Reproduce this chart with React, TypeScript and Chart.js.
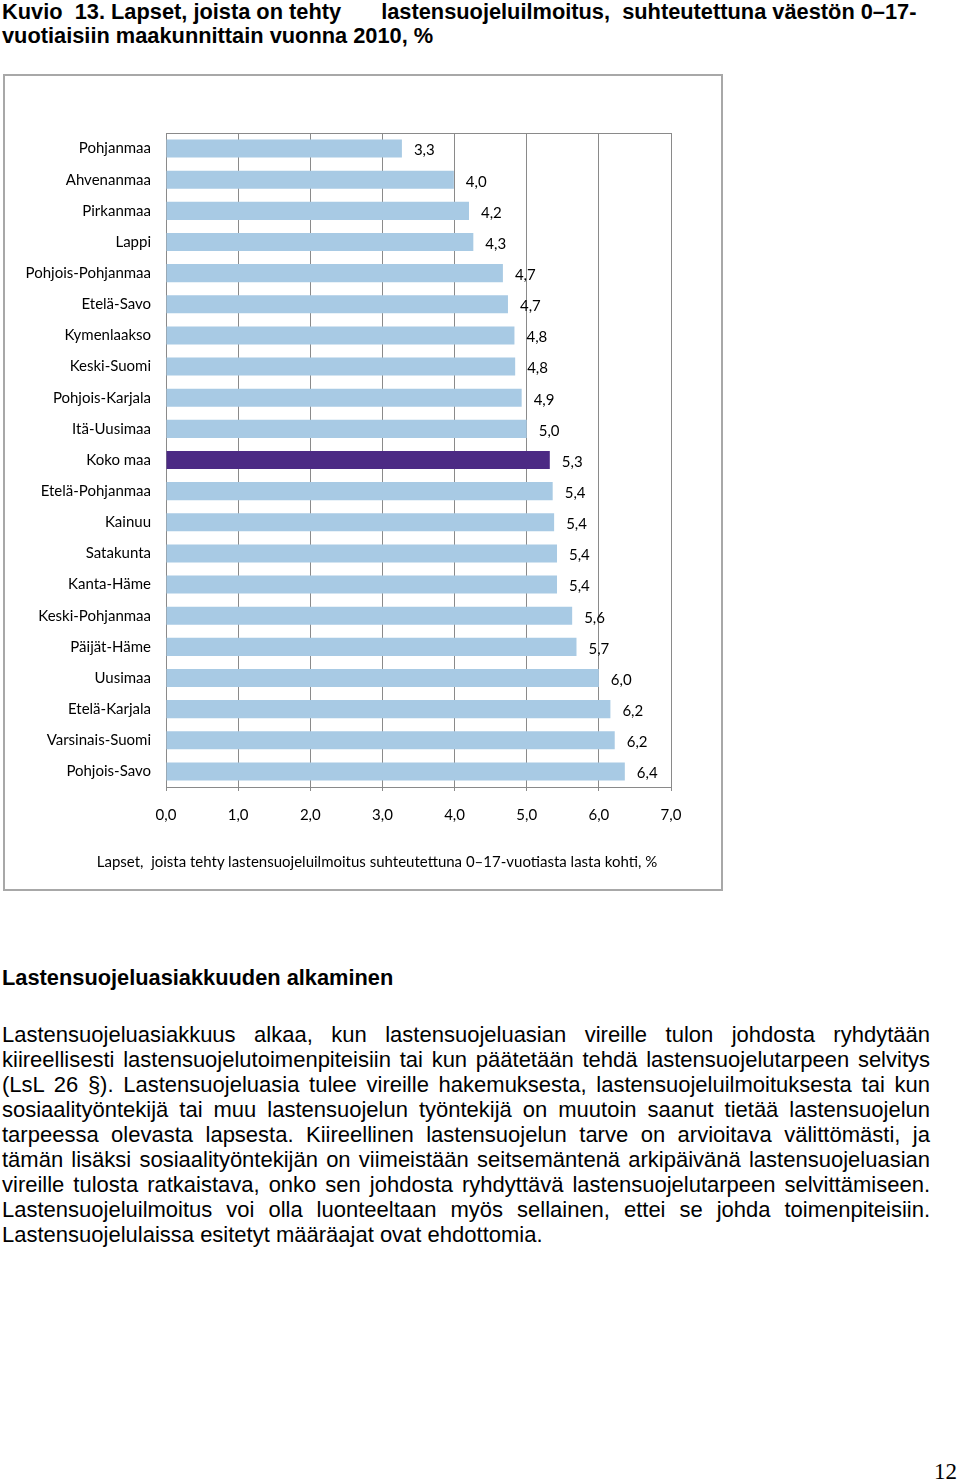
import React, { useEffect, useRef } from 'react';
import { Chart, registerables } from 'chart.js';

Chart.register(...registerables);

const categories = [
  'Pohjanmaa', 'Ahvenanmaa', 'Pirkanmaa', 'Lappi', 'Pohjois-Pohjanmaa', 'Etelä-Savo',
  'Kymenlaakso', 'Keski-Suomi', 'Pohjois-Karjala', 'Itä-Uusimaa', 'Koko maa',
  'Etelä-Pohjanmaa', 'Kainuu', 'Satakunta', 'Kanta-Häme', 'Keski-Pohjanmaa',
  'Päijät-Häme', 'Uusimaa', 'Etelä-Karjala', 'Varsinais-Suomi', 'Pohjois-Savo',
];
const values = [
  3.27, 3.99, 4.2, 4.26, 4.67, 4.74, 4.83, 4.84, 4.93, 5.0, 5.32,
  5.36, 5.38, 5.42, 5.42, 5.63, 5.69, 6.0, 6.16, 6.22, 6.36,
];
const highlighted = ['Koko maa'];
const xMin = 0;
const xMax = 7;
const xStep = 1;

const titleLine1a = 'Kuvio  13. Lapset, joista on tehty';
const titleLine1b = 'lastensuojeluilmoitus,  suhteutettuna väestön 0–17-';
const titleLine2 = 'vuotiaisiin maakunnittain vuonna 2010, %';
const axisTitle = 'Lapset,  joista tehty lastensuojeluilmoitus suhteutettuna 0–17-vuotiasta lasta kohti, %';
const heading = 'Lastensuojeluasiakkuuden alkaminen';
const bodyLines = [
  'Lastensuojeluasiakkuus alkaa, kun lastensuojeluasian vireille tulon johdosta ryhdytään',
  'kiireellisesti lastensuojelutoimenpiteisiin tai kun päätetään tehdä lastensuojelutarpeen selvitys',
  '(LsL 26 §). Lastensuojeluasia tulee vireille hakemuksesta, lastensuojeluilmoituksesta tai kun',
  'sosiaalityöntekijä tai muu lastensuojelun työntekijä on muutoin saanut tietää lastensuojelun',
  'tarpeessa olevasta lapsesta. Kiireellinen lastensuojelun tarve on arvioitava välittömästi, ja',
  'tämän lisäksi sosiaalityöntekijän on viimeistään seitsemäntenä arkipäivänä lastensuojeluasian',
  'vireille tulosta ratkaistava, onko sen johdosta ryhdyttävä lastensuojelutarpeen selvittämiseen.',
  'Lastensuojeluilmoitus voi olla luonteeltaan myös sellainen, ettei se johda toimenpiteisiin.',
  'Lastensuojelulaissa esitetyt määräajat ovat ehdottomia.',
];
const pageNumber = '12';

const BLUE = '#a8cae4';
const PURPLE = '#4c2a84';
const GRID = '#8a8a8a';
const LABEL_FONT = 'Lato';
const LABEL_SIZE = 15;

const fmt = (v: number) => v.toFixed(1).replace('.', ',');

const framePlugin = {
  id: 'frame',
  beforeDatasetsDraw(chart: any) {
    const { ctx, chartArea: a } = chart;
    ctx.save();
    ctx.strokeStyle = GRID;
    ctx.lineWidth = 1;
    ctx.strokeRect(Math.round(a.left) + 0.5, Math.round(a.top) + 0.5, Math.round(a.right - a.left), Math.round(a.bottom - a.top));
    ctx.restore();
  },
};

const valueLabelPlugin = {
  id: 'valueLabels',
  afterDatasetsDraw(chart: any) {
    const { ctx } = chart;
    const meta = chart.getDatasetMeta(0);
    ctx.save();
    ctx.font = `${LABEL_SIZE}px ${LABEL_FONT}`;
    ctx.fillStyle = '#000';
    ctx.textAlign = 'left';
    ctx.textBaseline = 'middle';
    meta.data.forEach((el: any, i: number) => {
      ctx.fillText(fmt(values[i]), el.x + 12, el.y + 2);
    });
    ctx.restore();
  },
};

function BarChart() {
  const ref = useRef<HTMLCanvasElement>(null);
  useEffect(() => {
    if (!ref.current) return;
    const chart = new Chart(ref.current, {
      type: 'bar',
      data: {
        labels: categories,
        datasets: [
          {
            data: values,
            backgroundColor: categories.map((c) => (highlighted.includes(c) ? PURPLE : BLUE)),
            borderWidth: 0,
            barPercentage: 0.58,
            categoryPercentage: 1,
          },
        ],
      },
      options: {
        indexAxis: 'y',
        animation: false,
        responsive: false,
        maintainAspectRatio: false,
        layout: { padding: { left: 0, right: 53, top: 59, bottom: 0 } },
        plugins: { legend: { display: false }, tooltip: { enabled: false } },
        scales: {
          x: {
            min: xMin,
            max: xMax,
            afterFit: (s: any) => { s.height = 105; },
            ticks: {
              stepSize: xStep,
              padding: 15,
              color: '#000',
              font: { family: LABEL_FONT, size: LABEL_SIZE },
              callback: (v: any) => fmt(Number(v)),
            },
            grid: { color: GRID, lineWidth: 1, tickLength: 4, drawTicks: true },
            border: { display: false },
          },
          y: {
            afterFit: (s: any) => { s.width = 166; },
            ticks: {
              padding: 15,
              color: '#000',
              font: { family: LABEL_FONT, size: LABEL_SIZE },
            },
            grid: { display: false, drawTicks: false },
            border: { display: false },
          },
        },
      },
      plugins: [framePlugin, valueLabelPlugin],
    });
    return () => chart.destroy();
  }, []);
  return <canvas ref={ref} width={724} height={818} style={{ position: 'absolute', left: 0, top: 74, width: 724, height: 818 }} />;
}

export default function App() {
  const abs = (style: React.CSSProperties): React.CSSProperties => ({ position: 'absolute', ...style });
  return (
    <div style={{ position: 'absolute', left: 0, top: 0, width: 960, height: 1482, background: '#fff', overflow: 'hidden', fontFamily: '"Liberation Sans", Arial, sans-serif', color: '#000' }}>
      <div style={abs({ left: 2, top: 0, fontSize: 21.8, fontWeight: 'bold', lineHeight: '24px', whiteSpace: 'pre' })}>
        <div>
          <span>{titleLine1a}</span>
          <span style={{ display: 'inline-block', width: 40 }} />
          <span>{titleLine1b}</span>
        </div>
        <div>{titleLine2}</div>
      </div>

      <div style={abs({ left: 3, top: 74, width: 720, height: 817, border: '2px solid #a8a8a8', boxSizing: 'border-box' })} />
      <BarChart />
      <div style={abs({ left: 377 - 400, top: 851, width: 800, textAlign: 'center', fontFamily: LABEL_FONT, fontSize: LABEL_SIZE, lineHeight: '20px', whiteSpace: 'pre' })}>
        {axisTitle}
      </div>

      <div style={abs({ left: 2, top: 965, fontSize: 21.8, fontWeight: 'bold', lineHeight: '25px', whiteSpace: 'pre' })}>{heading}</div>

      <div style={abs({ left: 2, top: 1022, width: 928, fontSize: 22, lineHeight: '25px' })}>
        {bodyLines.map((line, i) => (
          <div
            key={i}
            style={{
              whiteSpace: 'nowrap',
              textAlign: i < bodyLines.length - 1 ? 'justify' : 'left',
              textAlignLast: i < bodyLines.length - 1 ? 'justify' : 'left',
            }}
          >
            {line}
          </div>
        ))}
      </div>

      <div style={abs({ left: 934, top: 1459, fontFamily: '"Liberation Serif", "Times New Roman", serif', fontSize: 23, lineHeight: '26px' })}>{pageNumber}</div>
    </div>
  );
}
